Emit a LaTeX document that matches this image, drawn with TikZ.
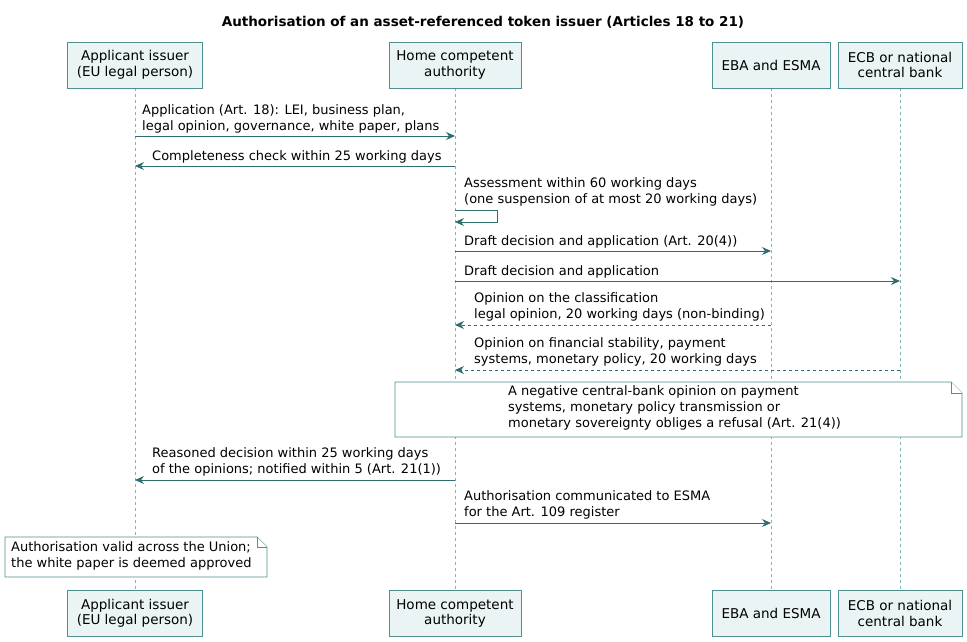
\documentclass[tikz,border=0pt]{standalone}
\usepackage{fontspec}
\setmainfont{DejaVu Sans}
\usetikzlibrary{arrows.meta}
\definecolor{boxfill}{HTML}{EAF4F4}
\definecolor{boxline}{HTML}{4F8F8F}
\definecolor{arr}{HTML}{2F6E6E}
\begin{document}
\begin{tikzpicture}[x=1pt,y=-1pt,
  part/.style={draw=boxline,line width=0.8pt,fill=boxfill,align=center,font=\fontsize{13.5}{15.5}\selectfont,inner sep=0pt,minimum height=46pt},
  msg/.style={draw=arr,line width=0.9pt,-{Stealth[length=9pt,width=8pt]}},
  rep/.style={msg,dashed},
  lbl/.style={anchor=south west,align=left,font=\fontsize{13}{16}\selectfont,inner sep=0pt},
  note/.style={draw=boxline,line width=0.8pt,fill=white},
  life/.style={draw=boxline!70,dashed,line width=0.6pt}]
\useasboundingbox (0,0) rectangle (967,642);
\node[font=\bfseries\fontsize{13.5}{15}\selectfont] (title) at (483,22) {Authorisation of an asset-referenced token issuer (Articles 18 to 21)};
\foreach \n/\x/\w/\t in {a/135/135/{Applicant issuer\\(EU legal person)},b/455/132/{Home competent\\authority},c/771/118/{EBA and ESMA},d/900/124/{ECB or national\\central bank}}{
  \coordinate (\n top) at (\x,88);
  \coordinate (\n bot) at (\x,590);
  \draw[life] (\n top) -- (\n bot);
  \node[part,minimum width=\w pt] (\n1) at (\x,65) {\t};
  \node[part,minimum width=\w pt] (\n2) at (\x,613.5) {\t};
}
\foreach \n in {a,b,c,d}{\foreach \y in {136,166,210,222,251,281,325,370,480,523}{\coordinate (\n\y) at (\n top |- 0,\y);}}
\draw[msg] (a136) -- (b136);
\node[lbl] at (142,133) {Application (Art. 18): LEI, business plan,\\legal opinion, governance, white paper, plans};
\draw[msg] (b166) -- (a166);
\node[lbl] at (152,163) {Completeness check within 25 working days};
\draw[msg] (b210) -- ++(42,0) -- ++(0,12) -- (b222);
\node[lbl] at (464,206) {Assessment within 60 working days\\(one suspension of at most 20 working days)};
\draw[msg] (b251) -- (c251);
\node[lbl] at (464,248) {Draft decision and application (Art. 20(4))};
\draw[msg] (b281) -- (d281);
\node[lbl] at (464,278) {Draft decision and application};
\draw[rep] (c325) -- (b325);
\node[lbl] at (474,321) {Opinion on the classification\\legal opinion, 20 working days (non-binding)};
\draw[rep] (d370) -- (b370);
\node[lbl] at (474,366) {Opinion on financial stability, payment\\systems, monetary policy, 20 working days};
\draw[note] (395,382) -- (951,382) -- (962,393) -- (962,437) -- (395,437) -- cycle;
\draw[note] (951,382) -- (951,393) -- (962,393);
\node[lbl,anchor=north west] (n1) at (508,385) {A negative central-bank opinion on payment\\systems, monetary policy transmission or\\monetary sovereignty obliges a refusal (Art. 21(4))};
\draw[msg] (b480) -- (a480);
\node[lbl] at (152,476) {Reasoned decision within 25 working days\\of the opinions; notified within 5 (Art. 21(1))};
\draw[msg] (b523) -- (c523);
\node[lbl] at (464,519) {Authorisation communicated to ESMA\\for the Art. 109 register};
\draw[note] (5,537) -- (257,537) -- (267,547) -- (267,577) -- (5,577) -- cycle;
\draw[note] (257,537) -- (257,547) -- (267,547);
\node[lbl,anchor=north west] (n2) at (11,541) {Authorisation valid across the Union;\\the white paper is deemed approved};
\end{tikzpicture}
\end{document}
